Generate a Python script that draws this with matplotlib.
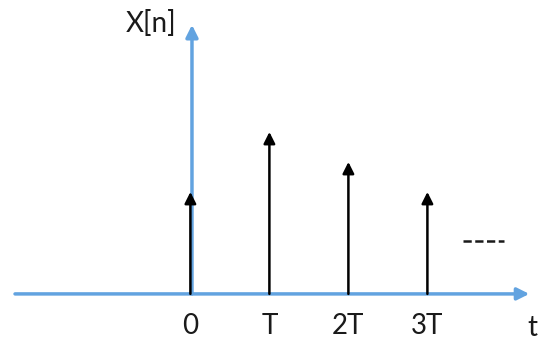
import matplotlib.pyplot as plt

# sample positions (in units of T) and impulse heights
positions = [0, 1, 2, 3]
tick_labels = ['0', 'T', '2T', '3T']
heights = [3.4, 5.4, 4.4, 3.4]

axis_blue = '#62a3e0'
ink = '#1a1a1a'

plt.rcParams['font.family'] = ['Lato', 'DejaVu Sans']

fig = plt.figure(figsize=(5.38, 3.41), dpi=100)
ax = fig.add_axes([0, 0, 1, 1])
ax.set_xlim(-2.41, 4.40)
ax.set_ylim(-1.57, 9.8)
ax.axis('off')

# axes drawn as arrows
ax.annotate('', xy=(4.29, 0), xytext=(-2.22, 0),
            arrowprops=dict(arrowstyle='-|>', color=axis_blue, lw=2.5,
                            mutation_scale=18, shrinkA=0, shrinkB=0))
ax.annotate('', xy=(0.02, 8.97), xytext=(0.02, 0),
            arrowprops=dict(arrowstyle='-|>', color=axis_blue, lw=2.5,
                            mutation_scale=18, shrinkA=0, shrinkB=0))

# impulses
for p, h in zip(positions, heights):
    ax.annotate('', xy=(p, h), xytext=(p, 0),
                arrowprops=dict(arrowstyle='-|>', color='black', lw=1.8,
                                mutation_scale=17, shrinkA=0, shrinkB=0))

for p, lab in zip(positions, tick_labels):
    ax.text(p, -1.08, lab, ha='center', va='center', fontsize=20, color=ink)

ax.text(4.33, -1.13, 't', ha='center', va='center', fontsize=20, color=ink)
ax.text(-0.5, 9.0, 'X[n]', ha='center', va='center', fontsize=20, color=ink)

# continuation dashes
ax.plot([3.45, 3.97], [1.77, 1.77], color=ink, lw=1.8,
        linestyle=(0, (3.3, 1.4)))

fig.savefig('out.png', dpi=100)
